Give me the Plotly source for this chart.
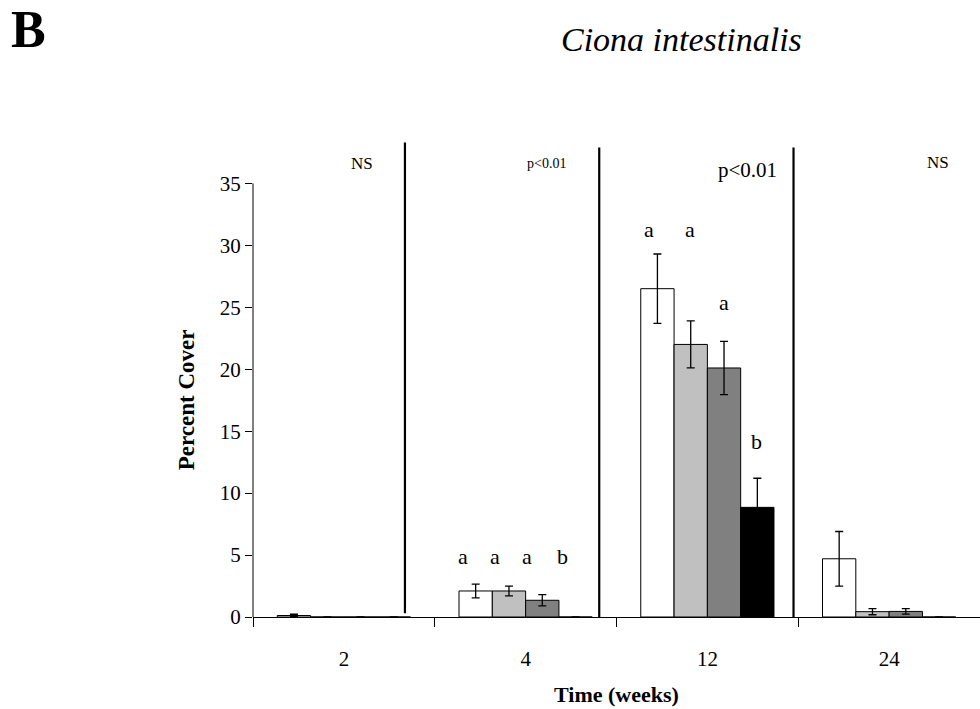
import plotly.graph_objects as go

weeks = ["2", "4", "12", "24"]
series_names = ["T1", "T2", "T3", "T4"]
values = [
    [0.12, 2.1, 26.5, 4.7],   # white
    [0.0, 2.1, 22.0, 0.43],   # light gray
    [0.0, 1.35, 20.1, 0.45],  # dark gray
    [0.0, 0.0, 8.85, 0.0],    # black
]
errors = [
    [0.1, 0.55, 2.8, 2.2],
    [0.0, 0.4, 1.9, 0.25],
    [0.0, 0.45, 2.15, 0.22],
    [0.0, 0.0, 2.35, 0.0],
]
bar_colors = ["#ffffff", "#c0c0c0", "#808080", "#000000"]

# significance letters (text, x in category units, y in data units)
letters = ["a", "a", "a", "b", "a", "a", "a", "b"]
letters_x = [0.653, 0.829, 1.005, 1.204, 1.68, 1.906, 2.094, 2.27]
letters_y = [4.9, 4.9, 4.9, 4.9, 31.3, 31.3, 25.4, 14.2]

# section labels
sect_text = ["NS", "p<0.01", "p<0.01", "NS"]
sect_x = [0.10, 1.115, 2.22, 3.27]
sect_y = [36.6, 36.6, 36.1, 36.7]
sect_size = [17, 14, 21, 17]

# separator lines
sep_x = [0.336, 1.405, 2.474]
sep_y0 = [0.3, 0.0, 0.0]
sep_y1 = [38.3, 37.9, 37.9]

FONT = "Liberation Serif"

fig = go.Figure()
for name, vals, errs, col in zip(series_names, values, errors, bar_colors):
    fig.add_trace(go.Bar(
        x=weeks, y=vals, name=name,
        marker=dict(color=col, line=dict(color="black", width=1)),
        error_y=dict(type="data", array=errs, color="black", thickness=1.3, width=4, visible=True),
        showlegend=False,
    ))

annotations = []
for t, x, y in zip(letters, letters_x, letters_y):
    annotations.append(dict(x=x, y=y, xref="x", yref="y", text=t, showarrow=False,
                            font=dict(family=FONT, size=22, color="black")))
for t, x, y, s in zip(sect_text, sect_x, sect_y, sect_size):
    annotations.append(dict(x=x, y=y, xref="x", yref="y", text=t.replace("<", "&lt;"), showarrow=False,
                            font=dict(family=FONT, size=s, color="black")))

W, H = 980, 709
ml, mr, mt, mb = 253, 0, 140, 92
pw, ph = W - ml - mr, H - mt - mb


def px2paper(px, py):
    return (px - ml) / pw, (H - mb - py) / ph


bx, by = px2paper(28, 29)
annotations.append(dict(x=bx, y=by, xref="paper", yref="paper", xanchor="center", yanchor="middle",
                        text="<b>B</b>", showarrow=False,
                        font=dict(family=FONT, size=52, color="black")))
tx, ty = px2paper(681, 40)
annotations.append(dict(x=tx, y=ty, xref="paper", yref="paper", xanchor="center", yanchor="middle",
                        text="<i>Ciona intestinalis</i>", showarrow=False,
                        font=dict(family=FONT, size=34, color="black")))
yx, _ = px2paper(186, 0)
annotations.append(dict(x=yx, y=17.5, xref="paper", yref="y", xanchor="center", yanchor="middle",
                        text="<b>Percent Cover</b>", textangle=-90, showarrow=False,
                        font=dict(family=FONT, size=23, color="black")))

shapes = []
for x, y0, y1 in zip(sep_x, sep_y0, sep_y1):
    shapes.append(dict(type="line", xref="x", yref="y", x0=x, x1=x, y0=y0, y1=y1,
                       line=dict(color="black", width=2.2)))
# y axis line up to 35
shapes.append(dict(type="line", xref="paper", yref="y", x0=0, x1=0, y0=-0.5, y1=35,
                   line=dict(color="black", width=1)))

fig.update_layout(
    width=W, height=H,
    margin=dict(l=ml, r=mr, t=mt, b=mb, pad=0),
    paper_bgcolor="white", plot_bgcolor="white",
    barmode="group", bargap=0.267, bargroupgap=0,
    font=dict(family=FONT, color="black", size=20),
    annotations=annotations, shapes=shapes,
    xaxis=dict(type="category", range=[-0.5, 3.5], showline=True, linecolor="black", linewidth=1,
               ticks="outside", tickson="boundaries", ticklen=9, tickcolor="black", tickwidth=1,
               ticklabelstandoff=23,
               showgrid=False, zeroline=False, tickfont=dict(size=21),
               title=dict(text="<b>Time (weeks)</b>", font=dict(size=22), standoff=16)),
    yaxis=dict(range=[0, 38.5], tickvals=[0, 5, 10, 15, 20, 25, 30, 35], showline=False,
               ticks="outside", ticklen=7, tickcolor="black", tickwidth=1,
               showgrid=False, zeroline=False, tickfont=dict(size=21)),
)

fig.write_html("out.html")
